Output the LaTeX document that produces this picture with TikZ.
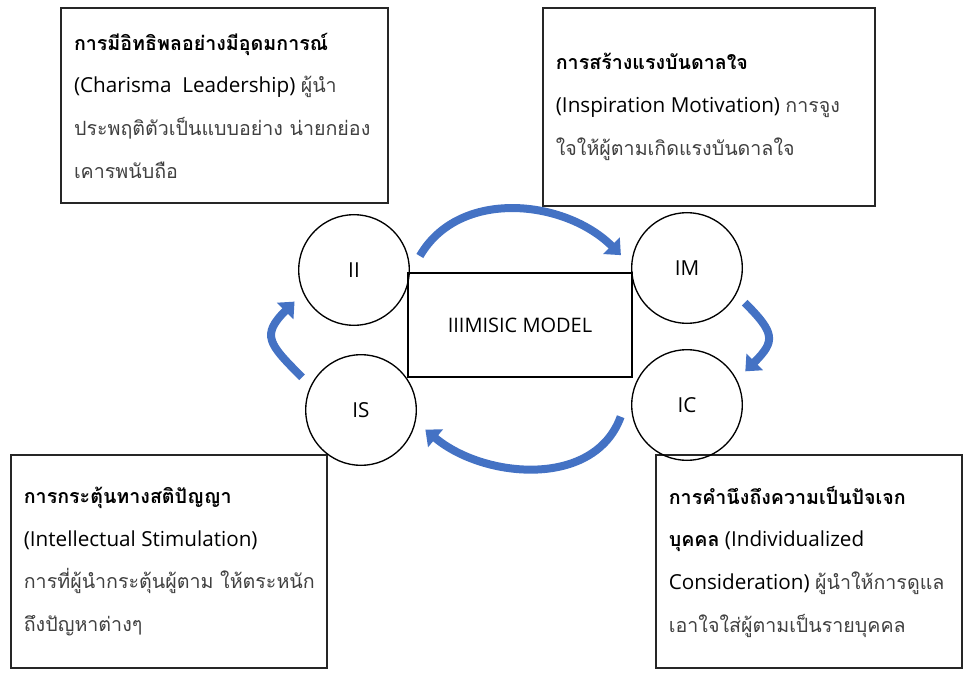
\documentclass[tikz,border=0pt]{standalone}
\usepackage{fontspec}
\setmainfont{Open Sans}
\newfontfamily\thai[Script=Thai,Scale=0.95]{Loma}
\usetikzlibrary{arrows.meta}
\definecolor{arrowblue}{RGB}{68,114,196}
\newcommand{\thtitle}[1]{{\thai\bfseries #1}}
\newcommand{\thdesc}[1]{{\thai\color{black!75}#1}}
\begin{document}
\begin{tikzpicture}[x=0.75pt,y=0.75pt,
  descbox/.style={draw=black!85,line width=1.1pt,inner sep=0pt},
  desctext/.style={anchor=west,align=left,inner sep=0pt,font=\fontsize{15.5}{32}\selectfont},
  dim/.style={draw,circle,line width=1pt,minimum size=83pt,inner sep=0pt,outer sep=9pt,font=\fontsize{15.5}{18}\selectfont},
  cyclearrow/.style={draw=arrowblue,line width=6pt,-{Triangle[length=10pt,width=17pt]}}]
\useasboundingbox (0,0) rectangle (972,-674);

\node[descbox,minimum width=245pt,minimum height=146pt] (iibox) at (224.5,-105.5) {};
\node[descbox,minimum width=249pt,minimum height=148.5pt] (imbox) at (709,-107) {};
\node[descbox,minimum width=237pt,minimum height=160pt] (isbox) at (169,-561.5) {};
\node[descbox,minimum width=229.5pt,minimum height=160pt] (icbox) at (809,-561.5) {};

\node[desctext] (iitext) at ([xshift=10pt]iibox.west) {\thtitle{การมีอิทธิพลอย่างมีอุดมการณ์}\\
(Charisma~ Leadership) \thdesc{ผู้นำ}\\
\thdesc{ประพฤติตัวเป็นแบบอย่าง น่ายกย่อง}\\
\thdesc{เคารพนับถือ}};
\node[desctext] (imtext) at ([xshift=10pt]imbox.west) {\thtitle{การสร้างแรงบันดาลใจ}\\
(Inspiration Motivation) \thdesc{การจูง}\\
\thdesc{ใจให้ผู้ตามเกิดแรงบันดาลใจ}};
\node[desctext] (istext) at ([xshift=10pt]isbox.west) {\thtitle{การกระตุ้นทางสติปัญญา}\\
(Intellectual Stimulation)\\
\thdesc{การที่ผู้นำกระตุ้นผู้ตาม ให้ตระหนัก}\\
\thdesc{ถึงปัญหาต่างๆ}};
\node[desctext] (ictext) at ([xshift=10pt]icbox.west) {\thtitle{การคำนึงถึงความเป็นปัจเจก}\\
\thtitle{บุคคล} (Individualized\\
Consideration) \thdesc{ผู้นำให้การดูแล}\\
\thdesc{เอาใจใส่ผู้ตามเป็นรายบุคคล}};

\node[dim] (ii) at (354,-270) {II};
\node[dim] (im) at (687,-268) {IM};
\node[dim] (is) at (361,-410) {IS};
\node[dim] (ic) at (687,-405) {IC};
\node[draw,line width=1pt,minimum width=168pt,minimum height=78pt,font=\fontsize{15}{18}\selectfont] (model) at (520,-325) {IIIMISIC MODEL};

\draw[cyclearrow] (ii.12) to[out=60,in=135] (im.169);
\draw[cyclearrow] (im.-31) to[out=-45,in=45,looseness=1.6] (ic.30);
\draw[cyclearrow] (ic.190) to[out=-110,in=-40] (is.-17);
\draw[cyclearrow] (is.151) to[out=135,in=225,looseness=1.6] (ii.208);

\end{tikzpicture}
\end{document}
